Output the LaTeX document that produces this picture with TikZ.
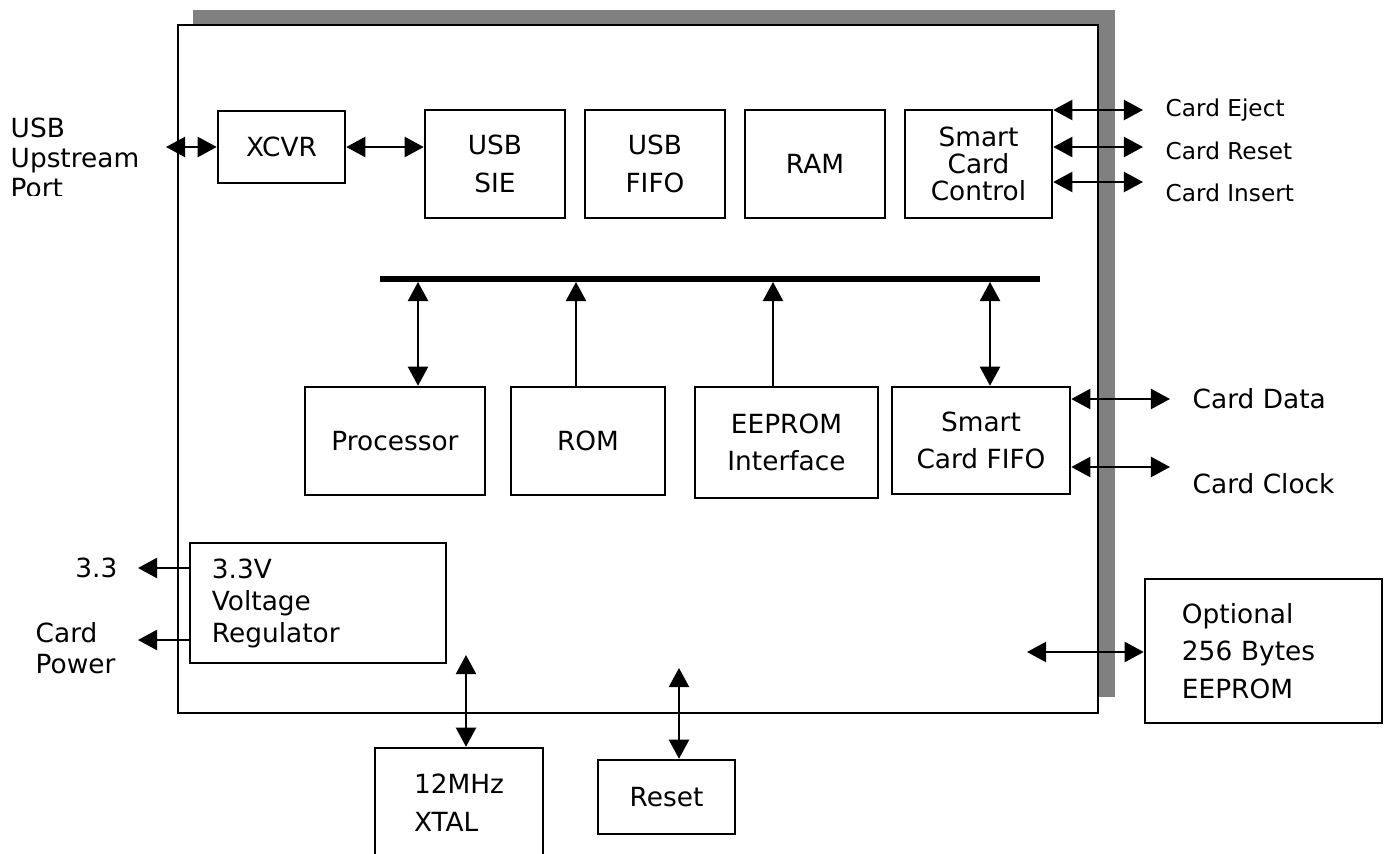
\documentclass[tikz,border=0pt]{standalone}
\usepackage{fontspec}
\setmainfont{DejaVu Sans}
\usetikzlibrary{arrows.meta,positioning,calc}
\definecolor{shadowgray}{HTML}{808080}

\begin{document}
\begin{tikzpicture}[x=0.01cm, y=-0.01cm,
    box/.style={draw, line width=0.7pt, align=center, inner sep=0pt, font=\fontsize{7.5}{10.7}\selectfont},
    lbl/.style={inner sep=0pt, align=left, font=\fontsize{7.5}{10.7}\selectfont},
    sig/.style={inner sep=0pt, anchor=west, font=\fontsize{6.6}{8}\selectfont},
    dbl/.style={{Triangle[length=1.9mm,width=2mm]}-{Triangle[length=1.9mm,width=2mm]}, line width=0.6pt},
    one/.style={-{Triangle[length=1.9mm,width=2mm]}, line width=0.6pt}
]
\useasboundingbox (0,0) rectangle (1390,854);

% chip outline with shadow
\fill[shadowgray] (193,10) rectangle (1115,697);
\draw[fill=white, line width=0.7pt] (178,25) rectangle (1098,713);

% top row
\node[box, minimum width=1.27cm, minimum height=0.72cm] (xcvr) at (281.5,147) {XCVR};
\node[box, minimum width=1.4cm, minimum height=1.08cm] (sie) at (495,164) {USB\\SIE};
\node[box, minimum width=1.4cm, minimum height=1.08cm] (fifo) at (655,164) {USB\\FIFO};
\node[box, minimum width=1.4cm, minimum height=1.08cm] (ram) at (815,164) {RAM};
\node[box, minimum width=1.47cm, minimum height=1.08cm, font=\fontsize{7.5}{7.7}\selectfont] (ctrl) at (978.5,164) {Smart\\Card\\Control};

% bus
\coordinate (busL) at (380,279);
\coordinate (busR) at (1040,279);
\coordinate (bus) at (0,282);
\draw[line width=1.7pt] (busL) -- (busR);

% second row
\node[box, minimum width=1.8cm, minimum height=1.08cm] (proc) at (395,441) {Processor};
\node[box, minimum width=1.54cm, minimum height=1.08cm] (rom) at (588,441) {ROM};
\node[box, minimum width=1.83cm, minimum height=1.11cm] (eepif) at (786.5,442.5) {EEPROM\\Interface};
\node[box, minimum width=1.78cm, minimum height=1.07cm] (scfifo) at (981,440.5) {Smart\\Card FIFO};

\coordinate (procT) at ([xshift=0.23cm]proc.north);
\coordinate (romT) at ([xshift=-0.12cm]rom.north);
\coordinate (eepifT) at ([xshift=-0.135cm]eepif.north);
\coordinate (scfifoT) at ([xshift=0.09cm]scfifo.north);
\draw[dbl] (procT |- bus) -- (procT);
\draw[one] (romT) -- (romT |- bus);
\draw[one] (eepifT) -- (eepifT |- bus);
\draw[dbl] (scfifoT |- bus) -- (scfifoT);

% regulator and outside parts
\node[box, minimum width=2.56cm, minimum height=1.2cm, align=left, text width=2.12cm, inner xsep=0.22cm,
      font=\fontsize{7.5}{9.1}\selectfont] (reg) at (318,603) {3.3V\\Voltage\\Regulator};
\node[box, minimum width=1.68cm, minimum height=1.1cm, align=left] (xtal) at (459,803) {12MHz\\XTAL};
\node[box, minimum width=1.37cm, minimum height=0.74cm] (rst) at (666.5,797) {Reset};
\node[box, minimum width=2.37cm, minimum height=1.44cm, align=left, text width=1.63cm, inner xsep=0.37cm] (eep) at (1263.5,651) {Optional\\256 Bytes\\EEPROM};

% USB side
\begin{scope}
\clip (0,100) rectangle (170,195);
\node[lbl, anchor=west, font=\fontsize{7.5}{8.5}\selectfont] (usb) at (10,158) {USB\\Upstream\\Port};
\end{scope}
\coordinate (usbL) at (166,147);
\draw[dbl] (usbL) -- (usbL -| xcvr.west);
\draw[dbl] (xcvr.east) -- (xcvr.east -| sie.west);

% card control signals
\coordinate (ejectR) at (1143,110);
\coordinate (resetR) at (1143,147);
\coordinate (insertR) at (1143,182);
\draw[dbl] (ejectR -| ctrl.east) -- (ejectR);
\draw[dbl] (resetR -| ctrl.east) -- (resetR);
\draw[dbl] (insertR -| ctrl.east) -- (insertR);
\node[sig] (eject) at (1165,110) {Card Eject};
\node[sig] (creset) at (1165,151) {Card Reset};
\node[sig] (insert) at (1165,193) {Card Insert};

% card data signals
\coordinate (dataR) at (1170,399);
\coordinate (clockR) at (1170,467);
\draw[dbl] (dataR -| scfifo.east) -- (dataR);
\draw[dbl] (clockR -| scfifo.east) -- (clockR);
\node[sig, font=\fontsize{7.5}{9}\selectfont] (cdata) at (1192,399) {Card Data};
\node[sig, font=\fontsize{7.5}{9}\selectfont] (cclock) at (1192,484) {Card Clock};

% power outputs
\coordinate (v33) at (138,568);
\coordinate (cpow) at (138,640);
\draw[one] (v33 -| reg.west) -- (v33);
\draw[one] (cpow -| reg.west) -- (cpow);
\node[lbl, anchor=east] (v33lbl) at (118,568) {3.3};
\node[lbl, anchor=west, font=\fontsize{7.5}{8.8}\selectfont] (cpowlbl) at (35,648) {Card\\Power};

% bottom connections
\coordinate (xtalT) at (466,655);
\coordinate (rstT) at (679,668);
\coordinate (eepL) at (1027,652);
\draw[dbl] (xtalT) -- (xtalT |- xtal.north);
\draw[dbl] (rstT) -- (rstT |- rst.north);
\draw[dbl] (eepL) -- (eepL -| eep.west);
\end{tikzpicture}
\end{document}
